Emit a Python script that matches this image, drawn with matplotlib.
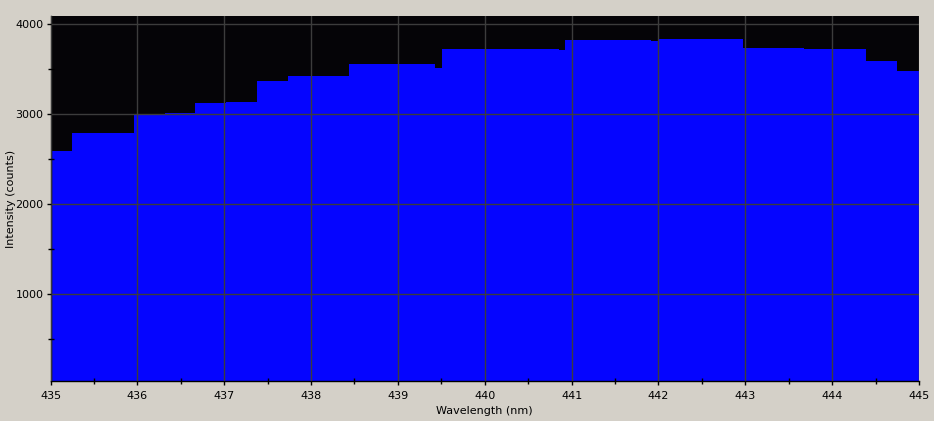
import matplotlib
matplotlib.use("Agg")
import matplotlib.pyplot as plt
from matplotlib.ticker import MultipleLocator

# Step edges (nm) and intensity (counts) of each step
edges = [435.0, 435.244, 435.962, 436.319, 436.665, 437.018, 437.379, 437.736,
         438.439, 439.430, 439.510, 440.850, 440.927, 441.915, 441.991, 442.978,
         443.680, 444.392, 444.752, 445.0]
counts = [2592, 2792, 2992, 3011, 3126, 3141, 3370, 3426, 3563, 3518,
          3726, 3714, 3826, 3814, 3837, 3737, 3726, 3592, 3481]

x_ticks = [435, 436, 437, 438, 439, 440, 441, 442, 443, 444, 445]
y_ticks = [1000, 2000, 3000, 4000]

BG = "#d4d0c8"
fig = plt.figure(figsize=(9.34, 4.21), dpi=100, facecolor=BG)
ax = fig.add_axes([50.5/934, 40/421, 868.5/934, 365/421])
ax.set_facecolor("#050407")

ax.stairs(counts, edges, baseline=0, fill=True, color="#0505ff", zorder=1)

ax.set_xlim(435, 445)
ax.set_ylim(37, 4092)
ax.set_xticks(x_ticks)
ax.set_yticks(y_ticks)
ax.xaxis.set_minor_locator(MultipleLocator(0.5))
ax.yaxis.set_minor_locator(MultipleLocator(500))

ax.grid(True, which="major", color="#3c3c3c", linewidth=1.0, zorder=2)
ax.set_axisbelow(False)

for s in ["top", "right"]:
    ax.spines[s].set_visible(False)
for s in ["left", "bottom"]:
    ax.spines[s].set_color("black")
    ax.spines[s].set_linewidth(1.0)

ax.tick_params(which="major", direction="out", length=3, width=1, color="black",
               labelsize=8, labelcolor="black", pad=2)
ax.tick_params(which="minor", direction="inout", length=5, width=1, color="black")
ax.tick_params(axis="x", which="major", pad=4)

ax.set_xlabel("Wavelength (nm)", fontsize=8, color="black")
ax.set_ylabel("Intensity (counts)", fontsize=8, color="black")
ax.xaxis.set_label_coords(0.5, -0.0685)
ax.yaxis.set_label_coords(-0.0397, 0.5)

fig.savefig("out.png", dpi=100, facecolor=BG)
